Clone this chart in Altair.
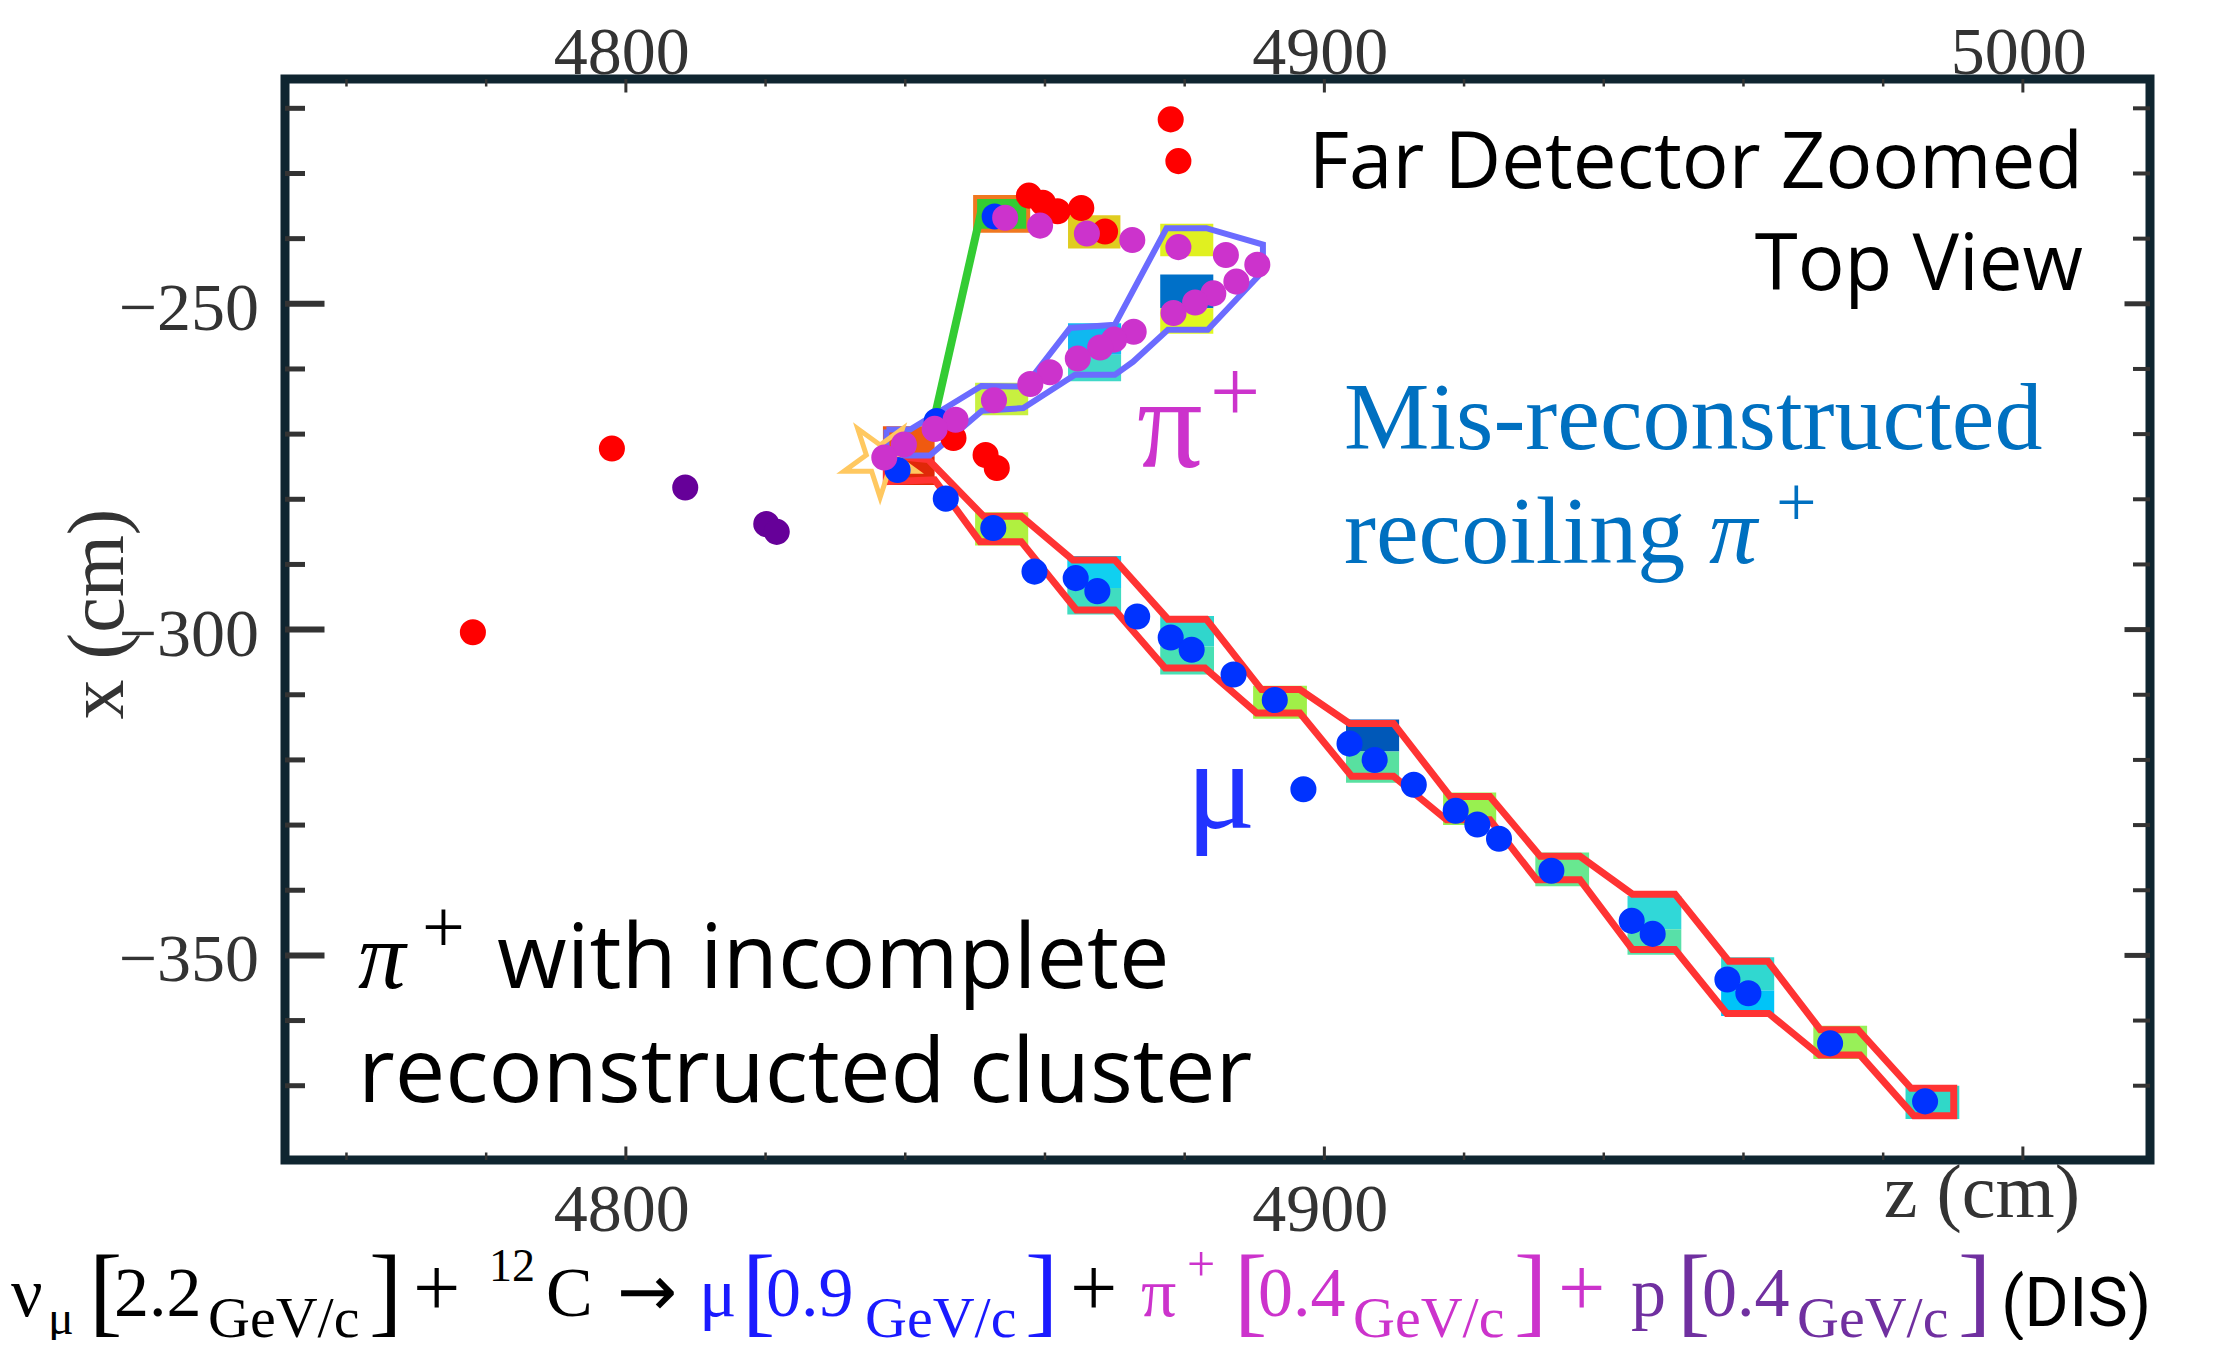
import altair as alt
import pandas as pd

# ---------------- data (z = beam axis, x = transverse), cm ----------------
red_z = [4878.0, 4879.1, 4857.7, 4859.7, 4861.8, 4865.2, 4868.6, 4798.0, 4778.1, 4846.9, 4851.5, 4853.1]
red_x = [-221.7, -228.1, -233.4, -234.5, -235.8, -235.3, -238.9, -272.2, -300.4, -270.6, -273.2, -275.2]

proton_z = [4808.5, 4820.1, 4821.6]
proton_x = [-278.2, -283.8, -285.0]

muon_z = [4852.8, 4844.5, 4838.9, 4845.8, 4852.6, 4858.5, 4864.4, 4867.5, 4873.2, 4878.0,
          4881.0, 4887.0, 4892.9, 4897.0, 4903.6, 4907.2, 4912.8, 4918.8, 4921.9, 4925.0,
          4932.5, 4944.0, 4947.0, 4957.7, 4960.7, 4972.4, 4986.0]
muon_x = [-236.6, -268.0, -275.5, -279.9, -284.4, -291.1, -292.1, -294.1, -298.0, -301.2,
          -303.1, -306.9, -310.8, -324.5, -317.5, -320.0, -323.8, -327.8, -329.9, -332.1,
          -337.0, -344.7, -346.7, -353.7, -355.8, -363.5, -372.4]

pion_z = [4854.3, 4859.3, 4866.0, 4872.5, 4879.1, 4885.9, 4890.4, 4887.4, 4884.1, 4881.5,
          4878.4, 4872.7, 4869.9, 4867.9, 4864.7, 4860.7, 4857.9, 4852.7, 4847.2, 4844.2,
          4839.8, 4837.0]
pion_x = [-236.8, -238.0, -239.2, -240.2, -241.3, -242.5, -244.0, -246.6, -248.4, -249.8,
          -251.4, -254.3, -255.5, -256.7, -258.4, -260.5, -262.3, -264.8, -267.8, -269.2,
          -271.6, -273.6]

vertex_z = [4836.4]
vertex_x = [-273.9]

# detector cells (hit cells shaded by deposited energy)
cell_z0 = [4836.8, 4836.8, 4850.0, 4863.2, 4863.2, 4876.5, 4876.5, 4889.8, 4903.1, 4903.1,
           4917.0, 4930.2, 4943.4, 4943.4, 4956.8, 4956.8, 4970.0, 4983.2,
           4850.0, 4863.3, 4863.3, 4876.5, 4876.5, 4876.5, 4863.3]
cell_z1 = [4844.2, 4844.2, 4857.6, 4870.9, 4870.9, 4884.2, 4884.2, 4897.5, 4910.7, 4910.7,
           4924.6, 4937.9, 4951.1, 4951.1, 4964.4, 4964.4, 4977.7, 4990.9,
           4857.6, 4870.9, 4870.9, 4884.1, 4884.1, 4884.1, 4870.8]
cell_x0 = [-268.8, -273.4, -282.0, -288.7, -293.6, -297.9, -302.6, -308.6, -313.8, -318.7,
           -325.0, -334.2, -340.9, -346.0, -350.3, -355.4, -360.8, -370.0,
           -262.1, -253.0, -257.8, -237.7, -245.5, -250.7, -236.4]
cell_x1 = [-273.4, -277.8, -287.1, -293.6, -297.7, -302.6, -306.9, -313.7, -318.7, -323.5,
           -330.0, -339.4, -346.0, -349.9, -355.4, -359.3, -365.9, -375.1,
           -267.1, -257.8, -261.9, -242.7, -250.7, -254.6, -241.5]
cell_fill = ["#f05a10", "#e02808", "#b0f040", "#10d0f0", "#40dcc0", "#30d6cc", "#48e0b4", "#a0f048",
             "#0058b8", "#58e0a0", "#98f050", "#68e890", "#30d8d8", "#58e0a8", "#30d8d0", "#00c4f8",
             "#98f058", "#30d8c8", "#c8f040", "#10b8f0", "#40d8c8", "#e0f020", "#0070c8", "#e0f820",
             "#e0cc20"]

green_cell_z = [4850.0, 4857.6]
green_cell_x = [-233.6, -238.8]
green_track_z = [4844.0, 4851.2]
green_track_x = [-268.3, -234.3]

muon_hull_z = [4837.3, 4843.3, 4851.2, 4856.6, 4864.0, 4870.0, 4877.6, 4883.1, 4891.0, 4896.5,
               4903.6, 4909.9, 4918.0, 4923.7, 4930.9, 4936.6, 4944.1, 4950.2, 4957.9, 4963.5,
               4971.0, 4976.4, 4984.0, 4990.1, 4990.1, 4984.4, 4976.7, 4970.9, 4963.6, 4957.6,
               4950.2, 4944.1, 4936.6, 4930.4, 4923.7, 4917.5, 4909.9, 4903.9, 4896.5, 4890.3,
               4882.9, 4877.2, 4870.0, 4864.5, 4856.6, 4850.7, 4844.2, 4837.3, 4837.3]
muon_hull_x = [-273.3, -273.9, -282.6, -282.6, -289.3, -289.3, -298.4, -298.4, -309.2, -309.2,
               -314.4, -314.4, -325.6, -325.6, -334.8, -334.8, -340.6, -340.6, -350.9, -350.9,
               -361.4, -361.4, -370.4, -370.4, -374.6, -374.6, -365.3, -365.3, -358.9, -358.9,
               -349.1, -349.1, -338.4, -338.4, -329.2, -329.2, -322.5, -322.5, -312.8, -312.8,
               -305.9, -305.9, -297.0, -297.0, -286.5, -286.5, -277.0, -277.3, -273.3]

pion_hull_z = [4837.3, 4840.7, 4850.9, 4857.1, 4863.6, 4870.0, 4877.4, 4883.1, 4891.2, 4891.2,
               4883.3, 4877.6, 4872.6, 4870.0, 4864.3, 4856.9, 4851.0, 4843.5, 4837.3, 4837.3]
pion_hull_x = [-269.3, -269.3, -262.6, -262.7, -253.7, -253.2, -238.4, -238.4, -240.9, -245.0,
               -254.0, -254.0, -258.9, -260.9, -260.9, -266.0, -266.4, -273.3, -273.3, -269.3]

z_major = [4800, 4900, 5000]
z_minor = [4760, 4780, 4820, 4840, 4860, 4880, 4920, 4940, 4960, 4980]
x_major = [-250, -300, -350]
x_minor = [-220, -230, -240, -260, -270, -280, -290, -310, -320, -330, -340, -360, -370]
z_labels_top = ["4800", "4900", "5000"]
z_labels_bottom = ["4800", "4900"]
x_labels = ["\u2212250", "\u2212300", "\u2212350"]

# ---------------- layout ----------------
W, H = 1865, 1081
xs = alt.Scale(domain=[4751.2, 5018.2], nice=False, zero=False)
ys = alt.Scale(domain=[-381.4, -215.5], nice=False, zero=False)
TICK = "#333333"
FRAME = "#0f2530"
SERIF = "Liberation Serif"
SANS = "Open Sans"


def X(f):
    return alt.X(f, type="quantitative", scale=xs, axis=None)


def Y(f):
    return alt.Y(f, type="quantitative", scale=ys, axis=None)


layers = []

# cells
cells = pd.DataFrame({"z0": cell_z0, "z1": cell_z1, "x0": cell_x0, "x1": cell_x1, "fill": cell_fill})
layers.append(alt.Chart(cells).mark_rect().encode(
    x=X("z0"), x2="z1:Q", y=Y("x0"), y2="x1:Q", color=alt.Color("fill:N", scale=None, legend=None)))

gcell = pd.DataFrame({"z0": [green_cell_z[0]], "z1": [green_cell_z[1]],
                      "x0": [green_cell_x[0]], "x1": [green_cell_x[1]]})
layers.append(alt.Chart(gcell).mark_rect(fill="#33cc33", stroke="#f07820", strokeWidth=4).encode(
    x=X("z0"), x2="z1:Q", y=Y("x0"), y2="x1:Q"))

# hull outlines
hull_rows = []
for i, (z, x) in enumerate(zip(muon_hull_z, muon_hull_x)):
    hull_rows.append({"z": z, "x": x, "i": i, "h": "mu", "c": "#ff3333", "w": 7})
for i, (z, x) in enumerate(zip(pion_hull_z, pion_hull_x)):
    hull_rows.append({"z": z, "x": x, "i": i, "h": "pi", "c": "#6b6bff", "w": 6})
for i, (z, x) in enumerate(zip(green_track_z, green_track_x)):
    hull_rows.append({"z": z, "x": x, "i": i, "h": "gr", "c": "#33cc33", "w": 8})
hulls = pd.DataFrame(hull_rows)
layers.append(alt.Chart(hulls).mark_line(strokeJoin="miter").encode(
    x=X("z"), y=Y("x"), order=alt.Order("i:Q"), detail="h:N",
    color=alt.Color("c:N", scale=None, legend=None),
    strokeWidth=alt.StrokeWidth("w:Q", scale=None, legend=None)))

# vertex star
STAR = ("M0,-1L0.2245,-0.309L0.951,-0.309L0.363,0.118L0.588,0.809L0,0.382"
        "L-0.588,0.809L-0.363,0.118L-0.951,-0.309L-0.2245,-0.309Z")
vtx = pd.DataFrame({"z": vertex_z, "x": vertex_x})
layers.append(alt.Chart(vtx).mark_point(shape=STAR, filled=False, size=5776, stroke="#ffc860",
                                        strokeWidth=5, angle=180, opacity=1).encode(x=X("z"), y=Y("x")))

# hits
pts = pd.concat([
    pd.DataFrame({"z": red_z, "x": red_x, "c": "#ff0000"}),
    pd.DataFrame({"z": proton_z, "x": proton_x, "c": "#660099"}),
    pd.DataFrame({"z": muon_z, "x": muon_x, "c": "#0033ff"}),
    pd.DataFrame({"z": pion_z, "x": pion_x, "c": "#cc33cc"}),
], ignore_index=True)
layers.append(alt.Chart(pts).mark_circle(size=680, opacity=1).encode(
    x=X("z"), y=Y("x"), color=alt.Color("c:N", scale=None, legend=None)))


# ticks (inward, on all four sides)
def vrule(vals, y0, y1, w):
    return alt.Chart(pd.DataFrame({"v": vals})).mark_rule(color=TICK, strokeWidth=w).encode(
        x=X("v"), y=alt.value(y0), y2=alt.value(y1))


def hrule(vals, x0, x1, w):
    return alt.Chart(pd.DataFrame({"v": vals})).mark_rule(color=TICK, strokeWidth=w).encode(
        y=Y("v"), x=alt.value(x0), x2=alt.value(x1))


layers += [
    vrule(z_major, 0, 13.5, 3), vrule(z_minor, 0, 7.5, 2.5),
    vrule(z_major, H, H - 13.5, 3), vrule(z_minor, H, H - 7.5, 2.5),
    hrule(x_major, 0, 39.5, 6), hrule(x_minor, 0, 20, 5),
    hrule(x_major, W, W - 25.5, 5), hrule(x_minor, W, W - 17, 4),
]

# tick labels
for vals, labs, ypix in ((z_major, z_labels_top, -5), (z_major[:2], z_labels_bottom, 1152)):
    zl = pd.DataFrame({"v": vals, "t": labs})
    layers.append(alt.Chart(zl).mark_text(font=SERIF, fontSize=68, color=TICK, align="center",
                                          baseline="alphabetic", dx=-4).encode(
        x=X("v"), y=alt.value(ypix), text="t:N"))
xl = pd.DataFrame({"v": x_major, "t": x_labels})
layers.append(alt.Chart(xl).mark_text(font=SERIF, fontSize=68, color=TICK, align="right",
                                      baseline="alphabetic", dy=26).encode(
    y=Y("v"), x=alt.value(-26), text="t:N"))


# free text (pixel positions relative to the plot area)
def texts(rows, font, align="left", style="normal", angle=0):
    df = pd.DataFrame(rows, columns=["t", "px", "py", "fs", "c"])
    return alt.Chart(df).mark_text(font=font, align=align, baseline="alphabetic",
                                   fontStyle=style, angle=angle).encode(
        x=alt.X("px:Q", scale=None, axis=None), y=alt.Y("py:Q", scale=None, axis=None),
        text="t:N", size=alt.Size("fs:Q", scale=None, legend=None),
        color=alt.Color("c:N", scale=None, legend=None))


K, BL, MG, PU = "#000000", "#1a1aff", "#cc33cc", "#7030a0"
CY = "#0070c0"

layers.append(texts([["x (cm)", -162, 535, 80, TICK]], SERIF, align="center", angle=270))
layers.append(texts([["z (cm)", 1795, 1138, 76, TICK]], SERIF, align="right"))

layers.append(texts([["Far Detector Zoomed", 1798, 109, 78, K],
                     ["Top View", 1798, 211, 78, K]], SANS, align="right"))
layers.append(texts([["with incomplete", 212, 909, 90, K],
                     ["reconstructed cluster", 73, 1023, 90, K]], SANS))
layers.append(texts([["(DIS)", 1716, 1247, 68, K]], "Roboto"))
layers.append(texts([["\u03c0", 1424, 484, 96, CY],
                     ["\u03c0", 73, 909, 95, K]], SERIF, style="italic"))
layers.append(texts([
    ["Mis-reconstructed", 1059, 370, 96, CY],
    ["recoiling", 1059, 484, 96, CY],
    ["+", 1491, 447, 72, CY],
    ["\u03c0", 852, 388, 130, MG],
    ["+", 925, 342, 89, MG],
    ["\u03bc", 901, 749, 130, "#2233ff"],
    ["+", 137, 873, 76, K],
    # reaction line
    ["\u03bd", -274, 1237, 70, K],
    ["\u03bc", -237, 1255, 48, K],
    ["[", -196, 1245, 100, K],
    ["2.2", -171, 1237, 70, K],
    ["GeV/c", -77, 1258, 58, K],
    ["]", 84, 1245, 100, K],
    ["+", 128, 1237, 84, K],
    ["12", 204, 1202, 46, K],
    ["C", 261, 1237, 70, K],
    ["\u03bc", 414, 1237, 70, BL],
    ["[", 457, 1245, 100, BL],
    ["0.9", 481, 1237, 70, BL],
    ["GeV/c", 580, 1258, 58, BL],
    ["]", 740, 1245, 100, BL],
    ["+", 785, 1237, 84, K],
    ["\u03c0", 856, 1237, 70, MG],
    ["+", 902, 1202, 50, MG],
    ["[", 949, 1245, 100, MG],
    ["0.4", 973, 1237, 70, MG],
    ["GeV/c", 1068, 1258, 58, MG],
    ["]", 1229, 1245, 100, MG],
    ["+", 1273, 1237, 84, MG],
    ["p", 1346, 1237, 70, PU],
    ["[", 1392, 1245, 100, PU],
    ["0.4", 1417, 1237, 70, PU],
    ["GeV/c", 1512, 1258, 58, PU],
    ["]", 1673, 1245, 100, PU],
], SERIF))
layers.append(texts([["\u2192", 332, 1237, 72, K]], "DejaVu Sans"))

chart = alt.layer(*layers).properties(
    width=W, height=H,
    autosize=alt.AutoSizeParams(type="none"),
    padding={"left": 277, "top": 71, "right": 68, "bottom": 180},
    background="white",
).configure_view(stroke=FRAME, strokeWidth=9)

chart.save("out.html", embed_options={"renderer": "svg", "actions": False})
